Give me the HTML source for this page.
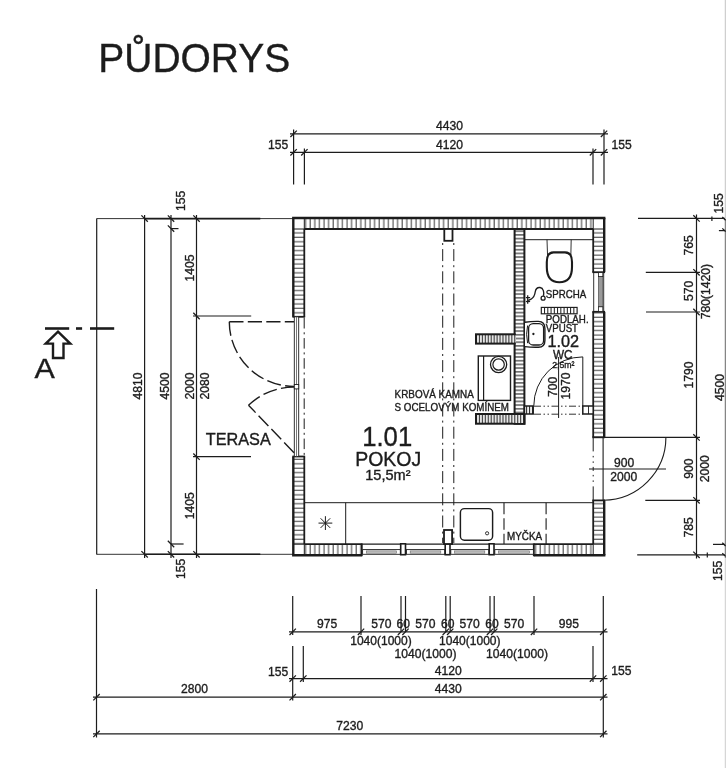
<!DOCTYPE html>
<html><head><meta charset="utf-8"><title>Pudorys</title>
<style>
html,body{margin:0;padding:0;background:#fff;}
body{width:726px;height:768px;overflow:hidden;font-family:"Liberation Sans",sans-serif;}
svg{display:block;will-change:transform;filter:blur(0.35px);}
svg text{font-family:"Liberation Sans",sans-serif;fill:#1c1c1c;stroke:#1c1c1c;stroke-width:0.36px;}
</style></head><body>
<svg width="726" height="768" viewBox="0 0 726 768">
<rect width="726" height="768" fill="#fff"/>

<defs>
<pattern id="hv" width="4.6" height="4" patternUnits="userSpaceOnUse"><rect width="4.6" height="4" fill="#fff"/><line x1="2" y1="0" x2="2" y2="4" stroke="#444" stroke-width="1.05"/></pattern>
<pattern id="hh" width="4" height="4.44" patternUnits="userSpaceOnUse"><rect width="4" height="4.44" fill="#fff"/><line x1="0" y1="2" x2="4" y2="2" stroke="#444" stroke-width="1.05"/></pattern>
<pattern id="hp" width="4" height="3.7" patternUnits="userSpaceOnUse"><rect width="4" height="3.7" fill="#fff"/><line x1="0" y1="1.8" x2="4" y2="1.8" stroke="#2a2a2a" stroke-width="1.15"/></pattern>
<pattern id="hs" width="2.95" height="4" patternUnits="userSpaceOnUse"><rect width="2.95" height="4" fill="#fff"/><line x1="1.5" y1="0" x2="1.5" y2="4" stroke="#2a2a2a" stroke-width="1.2"/></pattern>
<pattern id="hd" x="541.3" width="3.14" height="4" patternUnits="userSpaceOnUse"><rect width="3.14" height="4" fill="#fff"/><line x1="3" y1="0" x2="3" y2="4" stroke="#222" stroke-width="1.0"/></pattern>
</defs>
<text x="98.3" y="72.0" font-size="40.5" text-anchor="start" textLength="192" lengthAdjust="spacingAndGlyphs" >PŮDORYS</text>
<line x1="290" y1="133.8" x2="608" y2="133.8" stroke="#1c1c1c" stroke-width="1.2" />
<line x1="290" y1="152.3" x2="608" y2="152.3" stroke="#1c1c1c" stroke-width="1.2" />
<line x1="293.6" y1="129.5" x2="293.6" y2="184.4" stroke="#1c1c1c" stroke-width="1.2" />
<line x1="304.4" y1="148.5" x2="304.4" y2="184.4" stroke="#1c1c1c" stroke-width="1.2" />
<line x1="593" y1="148.5" x2="593" y2="184.4" stroke="#1c1c1c" stroke-width="1.2" />
<line x1="604" y1="129.5" x2="604" y2="184.4" stroke="#1c1c1c" stroke-width="1.2" />
<line x1="290.40000000000003" y1="137.0" x2="296.8" y2="130.60000000000002" stroke="#1c1c1c" stroke-width="1.25" />
<line x1="600.8" y1="137.0" x2="607.2" y2="130.60000000000002" stroke="#1c1c1c" stroke-width="1.25" />
<line x1="290.40000000000003" y1="155.5" x2="296.8" y2="149.10000000000002" stroke="#1c1c1c" stroke-width="1.25" />
<line x1="301.2" y1="155.5" x2="307.59999999999997" y2="149.10000000000002" stroke="#1c1c1c" stroke-width="1.25" />
<line x1="589.8" y1="155.5" x2="596.2" y2="149.10000000000002" stroke="#1c1c1c" stroke-width="1.25" />
<line x1="600.8" y1="155.5" x2="607.2" y2="149.10000000000002" stroke="#1c1c1c" stroke-width="1.25" />
<text transform="translate(449.4,130.2) scale(0.955,1)" font-size="12.7" text-anchor="middle" >4430</text>
<text transform="translate(449.4,149) scale(0.955,1)" font-size="12.7" text-anchor="middle" >4120</text>
<text transform="translate(278,148.8) scale(0.955,1)" font-size="12.7" text-anchor="middle" >155</text>
<text transform="translate(621.5,149) scale(0.955,1)" font-size="12.7" text-anchor="middle" >155</text>
<line x1="96.7" y1="218.6" x2="96.7" y2="554.5" stroke="#1c1c1c" stroke-width="1.2" />
<line x1="96.7" y1="218.6" x2="293" y2="218.6" stroke="#1c1c1c" stroke-width="0.9" />
<line x1="144.5" y1="218.6" x2="260.3" y2="218.6" stroke="#1c1c1c" stroke-width="1.6" />
<line x1="96.7" y1="554.3" x2="293" y2="554.3" stroke="#1c1c1c" stroke-width="0.9" />
<line x1="144.5" y1="554.3" x2="260.3" y2="554.3" stroke="#1c1c1c" stroke-width="1.6" />
<line x1="144.6" y1="215" x2="144.6" y2="558" stroke="#1c1c1c" stroke-width="1.2" />
<line x1="141.4" y1="215.4" x2="147.79999999999998" y2="221.79999999999998" stroke="#1c1c1c" stroke-width="1.25" />
<line x1="141.4" y1="551.0999999999999" x2="147.79999999999998" y2="557.5" stroke="#1c1c1c" stroke-width="1.25" />
<line x1="171" y1="215" x2="171" y2="558" stroke="#1c1c1c" stroke-width="1.2" />
<line x1="167.8" y1="215.4" x2="174.2" y2="221.79999999999998" stroke="#1c1c1c" stroke-width="1.25" />
<line x1="167.8" y1="551.0999999999999" x2="174.2" y2="557.5" stroke="#1c1c1c" stroke-width="1.25" />
<line x1="196.5" y1="215" x2="196.5" y2="558" stroke="#1c1c1c" stroke-width="1.2" />
<line x1="193.3" y1="215.4" x2="199.7" y2="221.79999999999998" stroke="#1c1c1c" stroke-width="1.25" />
<line x1="193.3" y1="551.0999999999999" x2="199.7" y2="557.5" stroke="#1c1c1c" stroke-width="1.25" />
<line x1="167.8" y1="225.4" x2="174.2" y2="231.79999999999998" stroke="#1c1c1c" stroke-width="1.25" />
<line x1="171" y1="228.6" x2="178.5" y2="228.6" stroke="#1c1c1c" stroke-width="1.2" />
<line x1="167.8" y1="540.8" x2="174.2" y2="547.2" stroke="#1c1c1c" stroke-width="1.25" />
<line x1="171" y1="544" x2="183.6" y2="544" stroke="#1c1c1c" stroke-width="1.2" />
<line x1="193.3" y1="312.8" x2="199.7" y2="319.2" stroke="#1c1c1c" stroke-width="1.25" />
<line x1="193" y1="316" x2="251.2" y2="316" stroke="#1c1c1c" stroke-width="1.2" />
<line x1="193.3" y1="453.5" x2="199.7" y2="459.9" stroke="#1c1c1c" stroke-width="1.25" />
<line x1="193" y1="456.7" x2="251" y2="456.7" stroke="#1c1c1c" stroke-width="1.2" />
<text transform="translate(142,386) rotate(-90) scale(0.955,1)" font-size="12.7" text-anchor="middle">4810</text>
<text transform="translate(168.5,386) rotate(-90) scale(0.955,1)" font-size="12.7" text-anchor="middle">4500</text>
<text transform="translate(193.7,386) rotate(-90) scale(0.955,1)" font-size="12.7" text-anchor="middle">2000</text>
<text transform="translate(209.3,386) rotate(-90) scale(0.955,1)" font-size="12.7" text-anchor="middle">2080</text>
<text transform="translate(193.7,268) rotate(-90) scale(0.955,1)" font-size="12.7" text-anchor="middle">1405</text>
<text transform="translate(193.7,505.8) rotate(-90) scale(0.955,1)" font-size="12.7" text-anchor="middle">1405</text>
<text transform="translate(184.5,200.8) rotate(-90) scale(0.955,1)" font-size="12.7" text-anchor="middle">155</text>
<text transform="translate(184.5,569) rotate(-90) scale(0.955,1)" font-size="12.7" text-anchor="middle">155</text>
<line x1="45" y1="328.5" x2="69.2" y2="328.5" stroke="#1c1c1c" stroke-width="2.6" />
<line x1="76" y1="328.5" x2="82.1" y2="328.5" stroke="#1c1c1c" stroke-width="2.6" />
<line x1="90" y1="328.5" x2="114.2" y2="328.5" stroke="#1c1c1c" stroke-width="2.6" />
<polygon points="58,331.6 70.3,343.6 63.5,343.6 63.5,358 53,358 53,343.6 45.7,343.6" fill="none" stroke="#1c1c1c" stroke-width="2.4" stroke-linejoin="miter"/>
<text x="34.4" y="378.4" font-size="27.5" text-anchor="start" textLength="20.3" lengthAdjust="spacingAndGlyphs" >A</text>
<line x1="696.5" y1="214.5" x2="696.5" y2="558.5" stroke="#1c1c1c" stroke-width="1.2" />
<line x1="638" y1="218.4" x2="726" y2="218.4" stroke="#1c1c1c" stroke-width="1.2" />
<line x1="645.8" y1="272.3" x2="700" y2="272.3" stroke="#1c1c1c" stroke-width="1.2" />
<line x1="646" y1="312" x2="700" y2="312" stroke="#1c1c1c" stroke-width="1.2" />
<line x1="604" y1="437.4" x2="700" y2="437.4" stroke="#1c1c1c" stroke-width="1.2" />
<line x1="645.3" y1="500.3" x2="700" y2="500.3" stroke="#1c1c1c" stroke-width="1.2" />
<line x1="637.2" y1="554.8" x2="726" y2="554.8" stroke="#1c1c1c" stroke-width="1.2" />
<line x1="693.3" y1="215.20000000000002" x2="699.7" y2="221.6" stroke="#1c1c1c" stroke-width="1.25" />
<line x1="693.3" y1="269.1" x2="699.7" y2="275.5" stroke="#1c1c1c" stroke-width="1.25" />
<line x1="693.3" y1="308.8" x2="699.7" y2="315.2" stroke="#1c1c1c" stroke-width="1.25" />
<line x1="693.3" y1="434.2" x2="699.7" y2="440.59999999999997" stroke="#1c1c1c" stroke-width="1.25" />
<line x1="693.3" y1="497.1" x2="699.7" y2="503.5" stroke="#1c1c1c" stroke-width="1.25" />
<line x1="693.3" y1="551.5999999999999" x2="699.7" y2="558.0" stroke="#1c1c1c" stroke-width="1.25" />
<line x1="725.4" y1="219" x2="725.4" y2="558" stroke="#858585" stroke-width="1.3" />
<line x1="725.4" y1="0" x2="725.4" y2="219" stroke="#cfcfcf" stroke-width="1.3" />
<line x1="725.4" y1="558" x2="725.4" y2="768" stroke="#d6d6d6" stroke-width="1.3" />
<line x1="722.3" y1="217" x2="725.6" y2="220.2" stroke="#1c1c1c" stroke-width="1.25" />
<line x1="722.3" y1="228.4" x2="725.6" y2="231.6" stroke="#1c1c1c" stroke-width="1.25" />
<line x1="718.9" y1="230.6" x2="724.6" y2="230.6" stroke="#1c1c1c" stroke-width="1.25" />
<line x1="711.9" y1="216.6" x2="711.9" y2="221" stroke="#1c1c1c" stroke-width="1.2" />
<line x1="707.3" y1="552.6" x2="707.3" y2="557.4" stroke="#1c1c1c" stroke-width="1.2" />
<line x1="722.3" y1="542.8" x2="725.6" y2="546" stroke="#1c1c1c" stroke-width="1.25" />
<line x1="713" y1="544.4" x2="724.6" y2="544.4" stroke="#1c1c1c" stroke-width="1.25" />
<line x1="722.3" y1="553.2" x2="725.6" y2="556.4" stroke="#1c1c1c" stroke-width="1.25" />
<text transform="translate(692.9,245.3) rotate(-90) scale(0.955,1)" font-size="12.7" text-anchor="middle">765</text>
<text transform="translate(692.9,291) rotate(-90) scale(0.955,1)" font-size="12.7" text-anchor="middle">570</text>
<text transform="translate(710.3,291.6) rotate(-90) scale(0.955,1)" font-size="12.7" text-anchor="middle">780(1420)</text>
<text transform="translate(692.9,375) rotate(-90) scale(0.955,1)" font-size="12.7" text-anchor="middle">1790</text>
<text transform="translate(723.6,387.5) rotate(-90) scale(0.955,1)" font-size="12.7" text-anchor="middle">4500</text>
<text transform="translate(692.9,468.7) rotate(-90) scale(0.955,1)" font-size="12.7" text-anchor="middle">900</text>
<text transform="translate(708.8,468.7) rotate(-90) scale(0.955,1)" font-size="12.7" text-anchor="middle">2000</text>
<text transform="translate(692.9,527.4) rotate(-90) scale(0.955,1)" font-size="12.7" text-anchor="middle">785</text>
<text transform="translate(723,203.3) rotate(-90) scale(0.955,1)" font-size="12.7" text-anchor="middle">155</text>
<text transform="translate(722.4,571) rotate(-90) scale(0.955,1)" font-size="12.7" text-anchor="middle">155</text>
<line x1="289" y1="631.8" x2="607.5" y2="631.8" stroke="#1c1c1c" stroke-width="1.2" />
<line x1="292.7" y1="596" x2="292.7" y2="635" stroke="#1c1c1c" stroke-width="1.2" />
<line x1="292.7" y1="646" x2="292.7" y2="700.5" stroke="#1c1c1c" stroke-width="1.2" />
<line x1="361" y1="596" x2="361" y2="635" stroke="#1c1c1c" stroke-width="1.2" />
<line x1="401" y1="596" x2="401" y2="632" stroke="#1c1c1c" stroke-width="1.2" />
<line x1="405.5" y1="596" x2="405.5" y2="632" stroke="#1c1c1c" stroke-width="1.2" />
<line x1="445.8" y1="596" x2="445.8" y2="632" stroke="#1c1c1c" stroke-width="1.2" />
<line x1="450.2" y1="596" x2="450.2" y2="632" stroke="#1c1c1c" stroke-width="1.2" />
<line x1="490" y1="596" x2="490" y2="632" stroke="#1c1c1c" stroke-width="1.2" />
<line x1="494.2" y1="596" x2="494.2" y2="632" stroke="#1c1c1c" stroke-width="1.2" />
<line x1="534" y1="596" x2="534" y2="635" stroke="#1c1c1c" stroke-width="1.2" />
<line x1="603.3" y1="596" x2="603.3" y2="737.5" stroke="#1c1c1c" stroke-width="1.2" />
<line x1="289.5" y1="635.0" x2="295.9" y2="628.5999999999999" stroke="#1c1c1c" stroke-width="1.25" />
<line x1="357.8" y1="635.0" x2="364.2" y2="628.5999999999999" stroke="#1c1c1c" stroke-width="1.25" />
<line x1="397.8" y1="635.0" x2="404.2" y2="628.5999999999999" stroke="#1c1c1c" stroke-width="1.25" />
<line x1="402.3" y1="635.0" x2="408.7" y2="628.5999999999999" stroke="#1c1c1c" stroke-width="1.25" />
<line x1="442.6" y1="635.0" x2="449.0" y2="628.5999999999999" stroke="#1c1c1c" stroke-width="1.25" />
<line x1="447.0" y1="635.0" x2="453.4" y2="628.5999999999999" stroke="#1c1c1c" stroke-width="1.25" />
<line x1="486.8" y1="635.0" x2="493.2" y2="628.5999999999999" stroke="#1c1c1c" stroke-width="1.25" />
<line x1="491.0" y1="635.0" x2="497.4" y2="628.5999999999999" stroke="#1c1c1c" stroke-width="1.25" />
<line x1="530.8" y1="635.0" x2="537.2" y2="628.5999999999999" stroke="#1c1c1c" stroke-width="1.25" />
<line x1="600.0999999999999" y1="635.0" x2="606.5" y2="628.5999999999999" stroke="#1c1c1c" stroke-width="1.25" />
<text transform="translate(327,628.3) scale(0.955,1)" font-size="12.7" text-anchor="middle" >975</text>
<text transform="translate(568.8,628.3) scale(0.955,1)" font-size="12.7" text-anchor="middle" >995</text>
<text transform="translate(381.3,628.3) scale(0.955,1)" font-size="12.7" text-anchor="middle" >570</text>
<text transform="translate(425.3,628.3) scale(0.955,1)" font-size="12.7" text-anchor="middle" >570</text>
<text transform="translate(469.7,628.3) scale(0.955,1)" font-size="12.7" text-anchor="middle" >570</text>
<text transform="translate(514.2,628.3) scale(0.955,1)" font-size="12.7" text-anchor="middle" >570</text>
<text transform="translate(403.2,628.3) scale(0.955,1)" font-size="12.7" text-anchor="middle" >60</text>
<text transform="translate(447.8,628.3) scale(0.955,1)" font-size="12.7" text-anchor="middle" >60</text>
<text transform="translate(492,628.3) scale(0.955,1)" font-size="12.7" text-anchor="middle" >60</text>
<text x="381" y="645.3" font-size="12.7" text-anchor="middle" textLength="61.5" lengthAdjust="spacingAndGlyphs" >1040(1000)</text>
<text x="469.8" y="645.3" font-size="12.7" text-anchor="middle" textLength="61.5" lengthAdjust="spacingAndGlyphs" >1040(1000)</text>
<text x="425.6" y="658.3" font-size="12.7" text-anchor="middle" textLength="62" lengthAdjust="spacingAndGlyphs" >1040(1000)</text>
<text x="517.1" y="658.3" font-size="12.7" text-anchor="middle" textLength="62" lengthAdjust="spacingAndGlyphs" >1040(1000)</text>
<line x1="289" y1="678.6" x2="607.5" y2="678.6" stroke="#1c1c1c" stroke-width="1.2" />
<line x1="303.3" y1="646" x2="303.3" y2="682" stroke="#1c1c1c" stroke-width="1.2" />
<line x1="593" y1="646" x2="593" y2="682" stroke="#1c1c1c" stroke-width="1.2" />
<line x1="289.5" y1="681.8000000000001" x2="295.9" y2="675.4" stroke="#1c1c1c" stroke-width="1.25" />
<line x1="300.1" y1="681.8000000000001" x2="306.5" y2="675.4" stroke="#1c1c1c" stroke-width="1.25" />
<line x1="589.8" y1="681.8000000000001" x2="596.2" y2="675.4" stroke="#1c1c1c" stroke-width="1.25" />
<line x1="600.0999999999999" y1="681.8000000000001" x2="606.5" y2="675.4" stroke="#1c1c1c" stroke-width="1.25" />
<text transform="translate(448.2,674.6) scale(0.955,1)" font-size="12.7" text-anchor="middle" >4120</text>
<text transform="translate(448.2,692.9) scale(0.955,1)" font-size="12.7" text-anchor="middle" >4430</text>
<text transform="translate(278,675.5) scale(0.955,1)" font-size="12.7" text-anchor="middle" >155</text>
<text transform="translate(621.4,674.6) scale(0.955,1)" font-size="12.7" text-anchor="middle" >155</text>
<line x1="93" y1="697.2" x2="607.5" y2="697.2" stroke="#1c1c1c" stroke-width="1.2" />
<line x1="93.3" y1="700.4000000000001" x2="99.7" y2="694.0" stroke="#1c1c1c" stroke-width="1.25" />
<line x1="289.5" y1="700.4000000000001" x2="295.9" y2="694.0" stroke="#1c1c1c" stroke-width="1.25" />
<line x1="600.0999999999999" y1="700.4000000000001" x2="606.5" y2="694.0" stroke="#1c1c1c" stroke-width="1.25" />
<text transform="translate(194.5,693.3) scale(0.955,1)" font-size="12.7" text-anchor="middle" >2800</text>
<line x1="93" y1="733.9" x2="607.5" y2="733.9" stroke="#1c1c1c" stroke-width="1.2" />
<line x1="93.3" y1="737.1" x2="99.7" y2="730.6999999999999" stroke="#1c1c1c" stroke-width="1.25" />
<line x1="600.0999999999999" y1="737.1" x2="606.5" y2="730.6999999999999" stroke="#1c1c1c" stroke-width="1.25" />
<text transform="translate(349.8,729.9) scale(0.955,1)" font-size="12.7" text-anchor="middle" >7230</text>
<line x1="96.5" y1="589" x2="96.5" y2="737.5" stroke="#1c1c1c" stroke-width="1.2" />
<rect x="304.3" y="218.0" width="288.90000000000003" height="11.0" fill="url(#hv)"/>
<rect x="293.3" y="229.0" width="11.0" height="87.80000000000001" fill="url(#hh)"/>
<rect x="293.3" y="456.5" width="11.0" height="87.70000000000005" fill="url(#hh)"/>
<rect x="593.2" y="229.0" width="11.0" height="43.19999999999999" fill="url(#hh)"/>
<rect x="593.2" y="311.8" width="11.0" height="125.5" fill="url(#hh)"/>
<rect x="593.2" y="500.4" width="11.0" height="43.80000000000007" fill="url(#hh)"/>
<rect x="304.3" y="544.2" width="57.5" height="11.0" fill="url(#hv)"/>
<rect x="533.8" y="544.2" width="59.40000000000009" height="11.0" fill="url(#hv)"/>
<line x1="292.1" y1="218.0" x2="605.4000000000001" y2="218.0" stroke="#1c1c1c" stroke-width="2.4" />
<line x1="293.3" y1="218.0" x2="293.3" y2="316.8" stroke="#1c1c1c" stroke-width="2.4" />
<line x1="293.3" y1="456.5" x2="293.3" y2="555.2" stroke="#1c1c1c" stroke-width="2.4" />
<line x1="604.2" y1="218.0" x2="604.2" y2="272.2" stroke="#1c1c1c" stroke-width="2.4" />
<line x1="604.2" y1="311.8" x2="604.2" y2="437.3" stroke="#1c1c1c" stroke-width="2.4" />
<line x1="604.2" y1="500.4" x2="604.2" y2="555.2" stroke="#1c1c1c" stroke-width="2.4" />
<line x1="292.1" y1="555.2" x2="361.8" y2="555.2" stroke="#1c1c1c" stroke-width="2.4" />
<line x1="533.8" y1="555.2" x2="605.4000000000001" y2="555.2" stroke="#1c1c1c" stroke-width="2.4" />
<line x1="304.3" y1="229.0" x2="593.2" y2="229.0" stroke="#1c1c1c" stroke-width="1.8" />
<line x1="304.3" y1="229.0" x2="304.3" y2="316.8" stroke="#1c1c1c" stroke-width="1.8" />
<line x1="304.3" y1="456.5" x2="304.3" y2="544.2" stroke="#1c1c1c" stroke-width="1.8" />
<line x1="593.2" y1="229.0" x2="593.2" y2="272.2" stroke="#1c1c1c" stroke-width="1.8" />
<line x1="593.2" y1="311.8" x2="593.2" y2="437.3" stroke="#1c1c1c" stroke-width="1.8" />
<line x1="593.2" y1="500.4" x2="593.2" y2="544.2" stroke="#1c1c1c" stroke-width="1.8" />
<line x1="304.3" y1="544.2" x2="361.8" y2="544.2" stroke="#1c1c1c" stroke-width="1.8" />
<line x1="533.8" y1="544.2" x2="593.2" y2="544.2" stroke="#1c1c1c" stroke-width="1.8" />
<line x1="292.40000000000003" y1="316.8" x2="305.1" y2="316.8" stroke="#1c1c1c" stroke-width="1.8" />
<line x1="292.40000000000003" y1="456.5" x2="305.1" y2="456.5" stroke="#1c1c1c" stroke-width="1.8" />
<line x1="592.3000000000001" y1="272.2" x2="605.0" y2="272.2" stroke="#1c1c1c" stroke-width="1.8" />
<line x1="592.3000000000001" y1="311.8" x2="605.0" y2="311.8" stroke="#1c1c1c" stroke-width="1.8" />
<line x1="592.3000000000001" y1="437.3" x2="605.0" y2="437.3" stroke="#1c1c1c" stroke-width="1.8" />
<line x1="592.3000000000001" y1="500.4" x2="605.0" y2="500.4" stroke="#1c1c1c" stroke-width="1.8" />
<line x1="361.8" y1="543.4000000000001" x2="361.8" y2="556.2" stroke="#1c1c1c" stroke-width="1.8" />
<line x1="533.8" y1="543.4000000000001" x2="533.8" y2="556.2" stroke="#1c1c1c" stroke-width="1.8" />
<line x1="293.3" y1="229.0" x2="304.3" y2="229.0" stroke="#1c1c1c" stroke-width="1.0" />
<line x1="304.3" y1="218.0" x2="304.3" y2="229.0" stroke="#1c1c1c" stroke-width="1.0" />
<line x1="593.2" y1="218.0" x2="593.2" y2="229.0" stroke="#1c1c1c" stroke-width="1.0" />
<line x1="593.2" y1="229.0" x2="604.2" y2="229.0" stroke="#1c1c1c" stroke-width="1.0" />
<line x1="293.3" y1="544.2" x2="304.3" y2="544.2" stroke="#1c1c1c" stroke-width="1.0" />
<line x1="304.3" y1="544.2" x2="304.3" y2="555.2" stroke="#1c1c1c" stroke-width="1.0" />
<line x1="593.2" y1="544.2" x2="604.2" y2="544.2" stroke="#1c1c1c" stroke-width="1.0" />
<line x1="593.2" y1="544.2" x2="593.2" y2="555.2" stroke="#1c1c1c" stroke-width="1.0" />
<rect x="514.6" y="229.0" width="9.8" height="194.7" fill="url(#hp)" stroke="#1c1c1c" stroke-width="2.0"/>
<rect x="476" y="334.3" width="38.6" height="9.3" fill="url(#hs)" stroke="#1c1c1c" stroke-width="2.0"/>
<rect x="476" y="414" width="48.4" height="9.7" fill="url(#hs)" stroke="#1c1c1c" stroke-width="2.0"/>
<rect x="513" y="335.4" width="3" height="7.1" fill="url(#hs)"/>
<rect x="513" y="415.1" width="3" height="7.5" fill="url(#hs)"/>
<rect x="515.7" y="420" width="7.6" height="3" fill="url(#hs)"/>
<rect x="524.4" y="406" width="8.8" height="8" fill="url(#hs)" stroke="#1c1c1c" stroke-width="1.5"/>
<rect x="582.8" y="406" width="10.4" height="8" fill="#fff" stroke="#1c1c1c" stroke-width="1.5" />
<line x1="588.5" y1="406" x2="588.5" y2="414" stroke="#1c1c1c" stroke-width="0.9" />
<rect x="294.3" y="316.8" width="4.4" height="139.7" fill="#fff" stroke="#1c1c1c" stroke-width="0.9" />
<line x1="296.5" y1="316.8" x2="296.5" y2="456.5" stroke="#555" stroke-width="0.8" />
<rect x="294.3" y="384.5" width="4.4" height="4.4" fill="#fff" stroke="#1c1c1c" stroke-width="0.9" />
<line x1="304.2" y1="318" x2="304.2" y2="456.5" stroke="#1c1c1c" stroke-width="1.0" stroke-dasharray="10.5 3.8 2 3.8"/>
<line x1="229.3" y1="321.7" x2="294" y2="321.7" stroke="#1c1c1c" stroke-width="1.4" stroke-dasharray="14.2 4.3"/>
<path d="M229.3 321.7 A64.7 64.7 0 0 0 294 386.4" fill="none" stroke="#1c1c1c" stroke-width="1.4" stroke-dasharray="14.2 4.3"/>
<line x1="294" y1="452.7" x2="248.5" y2="405.2" stroke="#1c1c1c" stroke-width="1.4" stroke-dasharray="14.2 4.3"/>
<path d="M248.5 405.2 A65.6 65.6 0 0 1 294 387.1" fill="none" stroke="#1c1c1c" stroke-width="1.4" stroke-dasharray="14.2 4.3"/>
<text x="238.3" y="444.5" font-size="16" text-anchor="middle" textLength="65" lengthAdjust="spacingAndGlyphs" >TERASA</text>
<line x1="593.7" y1="272.2" x2="593.7" y2="311.8" stroke="#1c1c1c" stroke-width="0.9" />
<line x1="603.7" y1="272.2" x2="603.7" y2="311.8" stroke="#1c1c1c" stroke-width="0.9" />
<rect x="598.6" y="276.6" width="4.2" height="30" fill="#9a9a9a" stroke="#555" stroke-width="0.8" />
<rect x="598.6" y="272.6" width="4.2" height="4" fill="#fff" stroke="#1c1c1c" stroke-width="0.8" />
<rect x="598.6" y="306.8" width="4.2" height="4.6" fill="#fff" stroke="#1c1c1c" stroke-width="0.8" />
<line x1="603.1" y1="437.3" x2="603.1" y2="500.4" stroke="#1c1c1c" stroke-width="1.1" />
<line x1="593.2" y1="437.4" x2="593.2" y2="500.4" stroke="#1c1c1c" stroke-width="1.0" stroke-dasharray="14 4.5 1.5 4 1.5 4 4 4 1.5 4 1.5 4.5 14"/>
<path d="M665.9 437.3 A62.9 62.9 0 0 1 603.5 500.2" fill="none" stroke="#1c1c1c" stroke-width="1.1"/>
<line x1="589" y1="469" x2="666" y2="469" stroke="#1c1c1c" stroke-width="1.2" />
<text transform="translate(624.2,466.8) scale(0.955,1)" font-size="12.7" text-anchor="middle" >900</text>
<text transform="translate(623.7,481.1) scale(0.955,1)" font-size="12.7" text-anchor="middle" >2000</text>
<line x1="361.8" y1="544.1" x2="533.8" y2="544.1" stroke="#1c1c1c" stroke-width="1.3" />
<rect x="362.6" y="549.6" width="37.8" height="4.7" fill="#fff" stroke="#1c1c1c" stroke-width="0.9" />
<rect x="366.40000000000003" y="550.9" width="30.0" height="2.3" fill="#c4c4c4" stroke="#666" stroke-width="0.6" />
<rect x="406.40000000000003" y="549.6" width="38.39999999999996" height="4.7" fill="#fff" stroke="#1c1c1c" stroke-width="0.9" />
<rect x="410.20000000000005" y="550.9" width="30.599999999999966" height="2.3" fill="#c4c4c4" stroke="#666" stroke-width="0.6" />
<rect x="450.8" y="549.6" width="37.999999999999986" height="4.7" fill="#fff" stroke="#1c1c1c" stroke-width="0.9" />
<rect x="454.6" y="550.9" width="30.19999999999999" height="2.3" fill="#c4c4c4" stroke="#666" stroke-width="0.6" />
<rect x="494.8" y="549.6" width="38.59999999999995" height="4.7" fill="#fff" stroke="#1c1c1c" stroke-width="0.9" />
<rect x="498.6" y="550.9" width="30.799999999999955" height="2.3" fill="#c4c4c4" stroke="#666" stroke-width="0.6" />
<rect x="400.7" y="543.8" width="4.8" height="10.9" fill="#fff" stroke="#1c1c1c" stroke-width="1.6" />
<rect x="445.2" y="543.8" width="4.8" height="10.9" fill="#fff" stroke="#1c1c1c" stroke-width="1.6" />
<rect x="489.2" y="543.8" width="4.8" height="10.9" fill="#fff" stroke="#1c1c1c" stroke-width="1.6" />
<rect x="444" y="530" width="8.1" height="14" fill="#fff" stroke="#1c1c1c" stroke-width="1.8" />
<rect x="444.3" y="229" width="8.2" height="11.8" fill="#fff" stroke="#1c1c1c" stroke-width="1.8" />
<line x1="442.7" y1="243" x2="442.7" y2="543" stroke="#1c1c1c" stroke-width="1.0" stroke-dasharray="2 4.1 12 4.1"/>
<line x1="453.8" y1="243" x2="453.8" y2="543" stroke="#1c1c1c" stroke-width="1.0" stroke-dasharray="2 4.1 12 4.1"/>
<line x1="304.3" y1="502.7" x2="593.2" y2="502.7" stroke="#1c1c1c" stroke-width="1.0" />
<line x1="345.7" y1="502.7" x2="345.7" y2="544" stroke="#1c1c1c" stroke-width="1.0" />
<line x1="504" y1="502.7" x2="504" y2="544" stroke="#1c1c1c" stroke-width="1.1" stroke-dasharray="11.5 4"/>
<line x1="546.1" y1="502.7" x2="546.1" y2="544" stroke="#1c1c1c" stroke-width="1.1" stroke-dasharray="11.5 4"/>
<line x1="325.4" y1="530.0" x2="325.4" y2="516.2" stroke="#1c1c1c" stroke-width="1.0" />
<line x1="318.5" y1="523.1" x2="332.29999999999995" y2="523.1" stroke="#1c1c1c" stroke-width="1.0" />
<line x1="320.59999999999997" y1="518.3000000000001" x2="330.2" y2="527.9" stroke="#1c1c1c" stroke-width="1.0" />
<line x1="320.59999999999997" y1="527.9" x2="330.2" y2="518.3000000000001" stroke="#1c1c1c" stroke-width="1.0" />
<rect x="460.4" y="508.6" width="32.2" height="31.6" fill="#fff" stroke="#1c1c1c" stroke-width="1.45" rx="4"/>
<circle cx="487.1" cy="533.3" r="1.6" fill="#fff" stroke="#1c1c1c" stroke-width="0.9"/>
<text x="524.6" y="540" font-size="10.2" text-anchor="middle" textLength="35" lengthAdjust="spacingAndGlyphs" >MYČKA</text>
<rect x="478.3" y="356" width="32.2" height="44.4" fill="#fff" stroke="#1c1c1c" stroke-width="1.4" />
<line x1="483.6" y1="356" x2="483.6" y2="400.4" stroke="#1c1c1c" stroke-width="1.2" />
<circle cx="498.6" cy="364.5" r="8.1" fill="#fff" stroke="#1c1c1c" stroke-width="1.3"/>
<circle cx="498.6" cy="364.5" r="5.7" fill="#fff" stroke="#1c1c1c" stroke-width="1.2"/>
<text x="394.6" y="398.4" font-size="10.4" text-anchor="start" textLength="79.2" lengthAdjust="spacingAndGlyphs" >KRBOVÁ KAMNA</text>
<text x="394.6" y="410.5" font-size="10.4" text-anchor="start" textLength="114.4" lengthAdjust="spacingAndGlyphs" >S OCELOVÝM KOMÍNEM</text>
<text x="387.2" y="445.7" font-size="27.5" text-anchor="middle" textLength="50" lengthAdjust="spacingAndGlyphs" >1.01</text>
<text x="388.2" y="466" font-size="19.5" text-anchor="middle" textLength="66" lengthAdjust="spacingAndGlyphs" >POKOJ</text>
<text x="387.9" y="480.4" font-size="14.3" text-anchor="middle" textLength="45.2" lengthAdjust="spacingAndGlyphs" >15,5m²</text>
<line x1="525" y1="239.7" x2="593.2" y2="239.7" stroke="#1c1c1c" stroke-width="1.0" />
<line x1="547" y1="239.7" x2="547.6" y2="257" stroke="#1c1c1c" stroke-width="0.9" />
<line x1="571.2" y1="239.7" x2="570.8" y2="257" stroke="#1c1c1c" stroke-width="0.9" />
<path d="M546.8 262 Q546.8 252.4 553.5 252.4 L565 252.4 Q572 252.4 572 262 L572 267 Q572 282.3 559.4 282.3 Q546.8 282.3 546.8 267 Z" fill="#fff" stroke="#1c1c1c" stroke-width="2.1"/>
<path d="M543.5 295.9 C544.2 292.5 543.6 288 540 287.5 C536.6 287.2 535.6 289.5 535.2 292 C534.8 295.5 533.5 297.6 531 299.2 C530 299.8 529.2 300.2 528.2 300.5" fill="none" stroke="#1c1c1c" stroke-width="1.35"/>
<circle cx="543.1" cy="298.2" r="2.0" fill="#fff" stroke="#1c1c1c" stroke-width="1.3"/>
<line x1="527.7" y1="295.2" x2="527.7" y2="303.8" stroke="#1c1c1c" stroke-width="1.25" />
<line x1="525.9" y1="297.6" x2="530.1" y2="297.6" stroke="#1c1c1c" stroke-width="1.25" />
<line x1="525.9" y1="301.5" x2="530.1" y2="301.5" stroke="#1c1c1c" stroke-width="1.25" />
<text x="545.8" y="298.4" font-size="10.3" text-anchor="start" textLength="40.4" lengthAdjust="spacingAndGlyphs" >SPRCHA</text>
<rect x="541.3" y="307.4" width="35.8" height="6.4" fill="#fff" stroke="#1c1c1c" stroke-width="1.15" />
<line x1="544.555" y1="307.4" x2="544.555" y2="313.8" stroke="#1c1c1c" stroke-width="1.0" />
<line x1="547.81" y1="307.4" x2="547.81" y2="313.8" stroke="#1c1c1c" stroke-width="1.0" />
<line x1="551.0649999999999" y1="307.4" x2="551.0649999999999" y2="313.8" stroke="#1c1c1c" stroke-width="1.0" />
<line x1="554.3199999999999" y1="307.4" x2="554.3199999999999" y2="313.8" stroke="#1c1c1c" stroke-width="1.0" />
<line x1="557.5749999999999" y1="307.4" x2="557.5749999999999" y2="313.8" stroke="#1c1c1c" stroke-width="1.0" />
<line x1="560.8299999999999" y1="307.4" x2="560.8299999999999" y2="313.8" stroke="#1c1c1c" stroke-width="1.0" />
<line x1="564.0849999999999" y1="307.4" x2="564.0849999999999" y2="313.8" stroke="#1c1c1c" stroke-width="1.0" />
<line x1="567.3399999999999" y1="307.4" x2="567.3399999999999" y2="313.8" stroke="#1c1c1c" stroke-width="1.0" />
<line x1="570.5949999999999" y1="307.4" x2="570.5949999999999" y2="313.8" stroke="#1c1c1c" stroke-width="1.0" />
<line x1="573.8499999999999" y1="307.4" x2="573.8499999999999" y2="313.8" stroke="#1c1c1c" stroke-width="1.0" />
<text x="545.8" y="322.6" font-size="10.3" text-anchor="start" textLength="42.8" lengthAdjust="spacingAndGlyphs" >PODLAH.</text>
<text x="545.8" y="331.6" font-size="10.3" text-anchor="start" textLength="32.2" lengthAdjust="spacingAndGlyphs" >VPUST</text>
<path d="M525 322.2 Q531 321.3 538.4 321.4 Q544.9 321.6 544.9 328.4 L544.9 340.4 Q544.9 347 538.4 347.2 Q531 347.4 525 346.6" fill="#fff" stroke="#1c1c1c" stroke-width="1.4"/>
<rect x="528.6" y="323.6" width="15" height="21.4" fill="#fff" stroke="#1c1c1c" stroke-width="1.3" rx="4.6"/>
<path d="M527.6 325.5 Q525.6 334.3 527.6 343.2" fill="none" stroke="#1c1c1c" stroke-width="1.0"/>
<circle cx="533.4" cy="334" r="1.15" fill="#1c1c1c"/>
<text x="563.3" y="347.1" font-size="16" text-anchor="middle" textLength="31.6" lengthAdjust="spacingAndGlyphs" >1.02</text>
<text x="562.8" y="358.5" font-size="12" text-anchor="middle" textLength="19.6" lengthAdjust="spacingAndGlyphs" >WC</text>
<text x="563.3" y="368.1" font-size="9.2" text-anchor="middle" textLength="22.3" lengthAdjust="spacingAndGlyphs" >2,5m²</text>
<path d="M533.8 405.8 A49 49 0 0 1 582.8 356.9 L582.8 406" fill="none" stroke="#1c1c1c" stroke-width="1.0"/>
<line x1="558.6" y1="357" x2="558.6" y2="418" stroke="#1c1c1c" stroke-width="1.0" />
<text transform="translate(556.5,386.9) rotate(-90) scale(0.955,1)" font-size="12.7" text-anchor="middle">700</text>
<text transform="translate(570.3,386) rotate(-90) scale(0.955,1)" font-size="12.7" text-anchor="middle">1970</text>
<line x1="534" y1="406.2" x2="583" y2="406.2" stroke="#1c1c1c" stroke-width="0.9" stroke-dasharray="7 2.5 1.5 2.5 1.5 2.5"/>
<line x1="534" y1="414.2" x2="583" y2="414.2" stroke="#1c1c1c" stroke-width="0.9" stroke-dasharray="7 2.5 1.5 2.5 1.5 2.5"/>
</svg>
</body></html>
